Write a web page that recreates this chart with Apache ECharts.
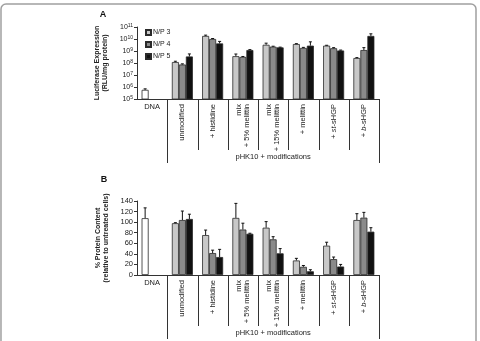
<!DOCTYPE html>
<html>
<head>
<meta charset="utf-8">
<script src="https://cdn.jsdelivr.net/npm/echarts@6/dist/echarts.min.js"></script>
<style>
  html, body { margin: 0; padding: 0; background: #fff; }
  #chart { width: 480px; height: 341px; }
</style>
</head>
<body>
<div id="chart"></div>
<script>
// categories along both x axes (first one is the plain DNA control)
const categories = ['DNA', 'unmodified', '+ histidine', 'mix\n+ 5% melittin', 'mix\n+ 15% melittin',
  '+ melittin', '+ st-sHGP', '+ b-sHGP'];
const groupLabel = 'pHK10 + modifications';
const seriesNames = ['N/P 3', 'N/P 4', 'N/P 5'];

// panel A: luciferase expression (RLU/mg protein), log scale
const npA3 = [5.8e5, 1.2e8, 1.8e10, 3.7e8, 3.3e9, 3.8e9, 2.8e9, 2.6e8];
const npA4 = [null, 7.5e7, 1.0e10, 3.2e8, 2.3e9, 1.8e9, 1.7e9, 1.2e9];
const npA5 = [null, 3.5e8, 4.3e9, 1.2e9, 2.0e9, 2.8e9, 1.1e9, 1.8e10];
const errA3 = [1.2e5, 2e7, 3e9, 1.9e8, 1.2e9, 3e8, 2e8, 2e7];
const errA4 = [null, 1e7, 1e9, 3e7, 2e8, 2e8, 2e8, 7e8];
const errA5 = [null, 2.2e8, 2e9, 1e8, 1e8, 3e9, 1e8, 9e9];

// panel B: % protein content relative to untreated cells
const npB3 = [107.5, 98, 75.5, 108, 89.5, 27.5, 55.5, 104];
const npB4 = [null, 104, 41.5, 86, 67.5, 15.5, 30, 108.5];
const npB5 = [null, 106, 34, 78, 41, 7, 16, 82];
const errB3 = [19.5, 1, 9.5, 27.5, 11.5, 4, 6.5, 12];
const errB4 = [null, 17, 5.5, 12, 5, 2.5, 4, 10];
const errB5 = [null, 9, 14.5, 1, 9, 3, 4, 7.5];

const FONT = '"Liberation Sans", Arial, sans-serif';
const INK = '#222';
const colors = ['#c8c8c8', '#8a8a8a', '#111111'];
const BAR_W = 7;

const chart = echarts.init(document.getElementById('chart'));

function barSeries(idx, values, axis) {
  return {
    name: seriesNames[idx],
    type: 'bar',
    xAxisIndex: axis,
    yAxisIndex: axis,
    barWidth: BAR_W,
    barGap: '0%',
    itemStyle: { color: colors[idx], borderColor: '#2a2a2a', borderWidth: 0.8 },
    data: values.map((v, i) => {
      if (v == null) return '-';
      // DNA control is drawn as an open bar
      if (i === 0) return { value: v, itemStyle: { color: '#fff' } };
      return v;
    }),
  };
}

function errorSeries(idx, values, errs, axis) {
  const offset = (idx - 1) * BAR_W;
  return {
    type: 'custom',
    xAxisIndex: axis,
    yAxisIndex: axis,
    silent: true,
    z: 3,
    data: values.map((v, i) => (v == null ? null : [i, v, v + errs[i]])).filter(Boolean),
    renderItem(params, api) {
      const lo = api.coord([api.value(0), api.value(1)]);
      const hi = api.coord([api.value(0), api.value(2)]);
      const x = lo[0] + offset;
      const st = { stroke: '#111', lineWidth: 1 };
      return {
        type: 'group',
        children: [
          { type: 'line', shape: { x1: x, y1: lo[1], x2: x, y2: hi[1] }, style: st },
          { type: 'line', shape: { x1: x - 1.5, y1: hi[1], x2: x + 1.5, y2: hi[1] }, style: st },
        ],
      };
    },
  };
}

const italicPart = { '+ st-sHGP': '+ {i|st}-sHGP', '+ b-sHGP': '+ {i|b}-sHGP' };

function xAxis(gridIndex) {
  return {
    type: 'category',
    gridIndex,
    data: categories,
    axisLine: { lineStyle: { color: '#333', width: 1 } },
    axisTick: { show: false },
    axisLabel: {
      interval: 0,
      rotate: 90,
      margin: 5,
      fontSize: 7.5,
      lineHeight: 8.5,
      color: INK,
      fontFamily: FONT,
      formatter: (v, i) => (i === 0 ? '' : (italicPart[v] || v)),
      rich: { i: { fontStyle: 'italic', fontSize: 7.5, fontFamily: FONT, color: INK } },
    },
  };
}

chart.setOption({
  animation: false,
  textStyle: { fontFamily: FONT },
  grid: [
    { left: 137, top: 27, width: 242, height: 72 },
    { left: 137, top: 201, width: 242, height: 74 },
  ],
  legend: {
    data: seriesNames,
    orient: 'vertical',
    left: 145,
    top: 29,
    padding: 0,
    itemWidth: 5,
    itemHeight: 5,
    itemGap: 5,
    icon: 'rect',
    textStyle: { fontSize: 7, color: INK, fontFamily: FONT, padding: [0, 0, 0, -3] },
  },
  xAxis: [xAxis(0), xAxis(1)],
  yAxis: [
    {
      type: 'log',
      gridIndex: 0,
      logBase: 10,
      min: 1e5,
      max: 1e11,
      name: 'Luciferase Expression\n(RLU/mg protein)',
      nameLocation: 'middle',
      nameGap: 20,
      nameTextStyle: { fontSize: 7, fontWeight: 'bold', lineHeight: 8, color: INK, fontFamily: FONT },
      axisLine: { show: true, lineStyle: { color: '#333' } },
      axisTick: { show: true, length: 3, lineStyle: { color: '#333' } },
      splitLine: { show: false },
      minorTick: { show: false },
      axisLabel: {
        margin: 4,
        color: INK,
        formatter: (v) => `{b|10}{e|${Math.round(Math.log10(v))}}`,
        rich: {
          b: { fontSize: 7, color: INK, fontFamily: FONT },
          e: { fontSize: 5, color: INK, fontFamily: FONT, verticalAlign: 'top' },
        },
      },
    },
    {
      type: 'value',
      gridIndex: 1,
      min: 0,
      max: 140,
      interval: 20,
      name: '% Protein Content\n(relative to untreated cells)',
      nameLocation: 'middle',
      nameGap: 16,
      nameTextStyle: { fontSize: 7, fontWeight: 'bold', lineHeight: 8, color: INK, fontFamily: FONT },
      axisLine: { show: true, lineStyle: { color: '#333' } },
      axisTick: { show: true, length: 3, lineStyle: { color: '#333' } },
      splitLine: { show: false },
      axisLabel: { margin: 4, fontSize: 7.5, color: INK, fontFamily: FONT },
    },
  ],
  series: [
    barSeries(0, npA3, 0), barSeries(1, npA4, 0), barSeries(2, npA5, 0),
    errorSeries(0, npA3, errA3, 0), errorSeries(1, npA4, errA4, 0), errorSeries(2, npA5, errA5, 0),
    barSeries(0, npB3, 1), barSeries(1, npB4, 1), barSeries(2, npB5, 1),
    errorSeries(0, npB3, errB3, 1), errorSeries(1, npB4, errB4, 1), errorSeries(2, npB5, errB5, 1),
  ],
});

// table-like category area under each axis: dividers, DNA label, group caption
function tableGraphics(axis, axisY) {
  const c0 = chart.convertToPixel({ xAxisIndex: axis }, 0);
  const c1 = chart.convertToPixel({ xAxisIndex: axis }, 1);
  const bw = c1 - c0;
  const out = [];
  for (let k = 1; k <= categories.length; k++) {
    const x = Math.round(c0 + (k - 0.5) * bw) + 0.5;
    const outer = k === 1 || k === categories.length;
    out.push({
      type: 'line',
      shape: { x1: x, y1: axisY, x2: x, y2: axisY + (outer ? 64 : 51) },
      style: { stroke: '#333', lineWidth: 1 },
    });
  }
  const txt = (text, x, y) => ({
    type: 'text',
    style: {
      text, x, y, fill: INK, font: `7.5px ${FONT}`,
      align: 'center', verticalAlign: 'middle', textAlign: 'center', textVerticalAlign: 'middle',
    },
  });
  out.push(txt(categories[0], c0, axisY + 8));
  const left = c0 + 0.5 * bw;
  const right = c0 + (categories.length - 0.5) * bw;
  out.push(txt(groupLabel, (left + right) / 2, axisY + 58));
  return out;
}

const axisYA = chart.convertToPixel({ yAxisIndex: 0 }, 1e5);
const axisYB = chart.convertToPixel({ yAxisIndex: 1 }, 0);
const panelTag = (text, x, y) => ({
  type: 'text',
  style: {
    text, x, y, fill: '#111', font: `bold 9px ${FONT}`,
    align: 'center', verticalAlign: 'middle', textAlign: 'center', textVerticalAlign: 'middle',
  },
});

chart.setOption({
  graphic: [
    {
      type: 'rect',
      shape: { x: 1, y: 4, width: 475, height: 360, r: 5 },
      style: { fill: 'none', stroke: '#a0a0a0', lineWidth: 1.5 },
      silent: true,
    },
    panelTag('A', 103, 15),
    panelTag('B', 104, 180),
    ...tableGraphics(0, axisYA),
    ...tableGraphics(1, axisYB),
  ],
});
</script>
</body>
</html>
